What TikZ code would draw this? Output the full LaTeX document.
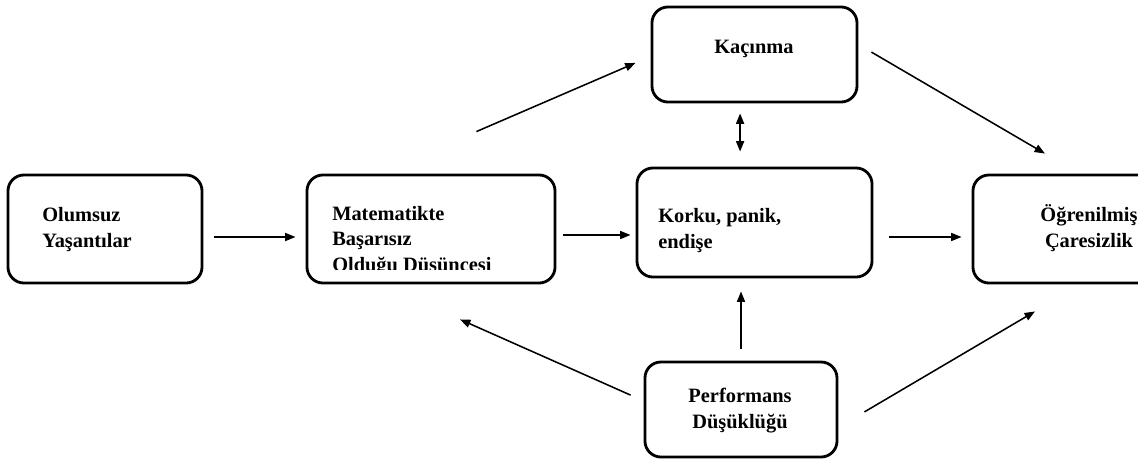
\documentclass[tikz,border=0pt]{standalone}
\usepackage{fontspec}
\setmainfont{Liberation Serif}
\usetikzlibrary{arrows.meta}

\tikzset{
  box/.style={draw, line width=2pt, rounded corners=0.4cm, inner sep=0pt},
  txt/.style={font=\fontsize{14.5}{17.8}\selectfont\bfseries, inner sep=0pt},
  arr/.style={line width=1.1pt, -{Triangle[length=0.26cm,width=0.2cm]}}
}

\begin{document}
\begin{tikzpicture}[x=0.025cm,y=-0.025cm]
\useasboundingbox (0,0) rectangle (1138,460);

\node[box, minimum width=4.85cm, minimum height=2.7cm] (n1) at (105,229) {};
\node[box, minimum width=6.2cm, minimum height=2.7cm] (n2) at (431,229) {};
\node[box, minimum width=5.875cm, minimum height=2.725cm] (n3) at (754.5,222.5) {};
\node[box, minimum width=4.8cm, minimum height=2.7cm] (n4) at (1069,229) {};
\node[box, minimum width=5.125cm, minimum height=2.375cm] (n5) at (754.5,54.5) {};
\node[box, minimum width=4.8cm, minimum height=2.375cm] (n6) at (741,409.5) {};

% base anchor sits on the last line
\node[txt, align=left, anchor=base west] (t1) at (42,247) {Olumsuz\\Yaşantılar};
\begin{scope}
\clip (307,175) rectangle (555,269);
\node[txt, align=left, anchor=base west] (t2) at (332,271) {Matematikte\\Başarısız\\Olduğu Düşüncesi};
\end{scope}
\node[txt, align=left, anchor=base west] (t3) at (658,248) {Korku, panik,\\endişe};
\node[txt, align=center, anchor=base] (t4) at (1089,247) {Öğrenilmiş\\Çaresizlik};
\node[txt, anchor=base] (t5) at (754,53) {Kaçınma};
\node[txt, align=center, anchor=base] (t6) at (740,428) {Performans\\Düşüklüğü};

\draw[arr, shorten <=0.275cm, shorten >=0.25cm] ([yshift=-0.2cm]n1.east) -- ([yshift=-0.2cm]n2.west);
\draw[arr, shorten <=0.175cm, shorten >=0.125cm] ([yshift=-0.15cm]n2.east) -- ([yshift=-0.15cm]n2.east -| n3.west);
\draw[arr, shorten <=0.4cm, shorten >=0.25cm] ([yshift=-0.2cm]n3.east |- n1.east) -- ([yshift=-0.2cm]n4.west);
\draw[arr] ([xshift=-2cm, yshift=1.05cm]n2.north east) -- ([xshift=-0.375cm, yshift=-0.21cm]n5.west);
\draw[arr] ([xshift=0.325cm, yshift=0.06cm]n5.east) -- ([xshift=-0.6cm, yshift=0.5cm]n4.north);
\draw[line width=1.1pt, {Triangle[length=0.26cm,width=0.2cm]}-{Triangle[length=0.26cm,width=0.2cm]}, shorten <=0.25cm, shorten >=0.375cm] ([xshift=-0.36cm]n5.south) -- ([xshift=-0.36cm]n3.north);
\draw[arr, shorten <=0.3cm, shorten >=0.325cm] (n6.north) -- (n6.north |- n3.south);
\draw[arr] ([xshift=-0.325cm, yshift=0.36cm]n6.west) -- ([xshift=0.725cm, yshift=-0.875cm]n2.south);
\draw[arr] ([xshift=0.65cm, yshift=-0.06cm]n6.east) -- ([xshift=-0.85cm, yshift=-0.675cm]n4.south);

\end{tikzpicture}
\end{document}
